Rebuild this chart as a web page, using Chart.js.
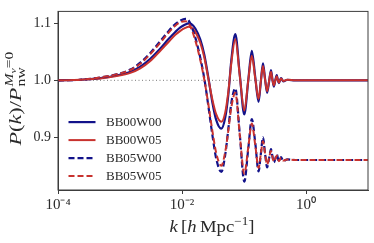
<!DOCTYPE html>
<html>
<head>
<meta charset="utf-8">
<script src="https://cdn.jsdelivr.net/npm/chart.js@4"></script>
<style>
  body { margin: 0; background: #fff; }
  #wrap { width: 374px; height: 243px; }
</style>
</head>
<body>
<div id="wrap"><canvas id="chart" width="374" height="243"></canvas></div>
<script>
// wavenumbers k [h/Mpc], shared by all four curves
const kValues = [
  1e-4, 2.29e-4, 4.81e-4, 8.39e-4, 1.47e-3, 2.12e-3, 3.08e-3, 4.47e-3, 6.01e-3, 7.80e-3,
  9.40e-3, 0.0113, 0.01265, 0.0141, 0.0164, 0.0197, 0.0229, 0.0266, 0.0308, 0.0357,
  0.0431, 0.0499, 0.0559, 0.0624, 0.0724, 0.0855, 0.1011, 0.1172, 0.1336, 0.152,
  0.1718, 0.1866, 0.2023, 0.2183, 0.236, 0.2541, 0.2723, 0.2871, 0.3027, 0.3199,
  0.3381, 0.3508, 0.3656, 0.3811, 0.3963, 0.4305, 0.499, 0.671, 1.17, 3.57, 10
];
const bb00w00 = [
  1.000, 1.001, 1.004, 1.008, 1.015, 1.024, 1.038, 1.056, 1.072, 1.085,
  1.093, 1.098, 1.100, 1.099, 1.091, 1.072, 1.045, 1.005, 0.962, 0.930,
  0.915, 0.935, 0.975, 1.035, 1.081, 1.010, 0.940, 1.000, 1.052, 1.005,
  0.962, 0.997, 1.030, 1.003, 0.978, 0.998, 1.018, 1.002, 0.989, 1.000,
  1.009, 1.001, 0.995, 1.000, 1.004, 0.998, 1.001, 1.000, 1.000, 1.000, 1.000
];
const bb00w05 = [
  1.000, 1.001, 1.003, 1.007, 1.013, 1.021, 1.034, 1.052, 1.067, 1.080,
  1.087, 1.092, 1.094, 1.093, 1.085, 1.066, 1.040, 1.003, 0.967, 0.940,
  0.927, 0.944, 0.980, 1.030, 1.072, 1.008, 0.947, 1.000, 1.043, 1.003,
  0.967, 0.998, 1.025, 1.002, 0.981, 0.999, 1.015, 1.001, 0.991, 1.000,
  1.007, 1.001, 0.996, 1.000, 1.003, 0.999, 1.001, 1.000, 1.000, 1.000, 1.000
];
const bb05w00 = [
  1.000, 1.001, 1.005, 1.010, 1.019, 1.031, 1.048, 1.069, 1.086, 1.099,
  1.105, 1.108, 1.106, 1.096, 1.075, 1.040, 1.003, 0.955, 0.905, 0.862,
  0.839, 0.870, 0.915, 0.960, 0.986, 0.905, 0.822, 0.880, 0.932, 0.890,
  0.840, 0.870, 0.900, 0.872, 0.847, 0.863, 0.879, 0.867, 0.856, 0.862,
  0.870, 0.864, 0.857, 0.861, 0.865, 0.858, 0.861, 0.860, 0.860, 0.860, 0.860
];
const bb05w05 = [
  1.000, 1.001, 1.005, 1.010, 1.018, 1.029, 1.046, 1.066, 1.083, 1.096,
  1.102, 1.104, 1.101, 1.091, 1.070, 1.036, 1.001, 0.958, 0.912, 0.872,
  0.850, 0.875, 0.912, 0.952, 0.978, 0.904, 0.836, 0.882, 0.924, 0.886,
  0.846, 0.870, 0.893, 0.872, 0.852, 0.864, 0.876, 0.866, 0.857, 0.862,
  0.868, 0.863, 0.858, 0.861, 0.864, 0.859, 0.861, 0.860, 0.860, 0.860, 0.860
];
const seriesNames = ['BB00W00', 'BB00W05', 'BB05W00', 'BB05W05'];
const referenceLevel = 1.0;
const kMin = 1e-4;
const kMax = 10;
const xTickValues = [1e-4, 1e-2, 1];
const xTickLabels = ['10⁻⁴', '10⁻²', '10⁰'];
const yTickValues = [0.9, 1.0, 1.1];
const yTickLabels = ['0.9', '1.0', '1.1'];

const blue = '#12128a';
const red = '#c8322e';
const serif = '"Liberation Serif", "Times New Roman", serif';

function toPoints(values) {
    return kValues.map((k, i) => ({ x: k, y: values[i] }));
}

// lays out a run of text pieces; a piece with keep:true does not advance (used for stacked sub/sup)
function layoutRich(ctx, parts) {
    let pos = 0, minEnd = 0;
    const placed = parts.map(p => {
        ctx.font = p.font;
        const w = ctx.measureText(p.t).width;
        const item = { ...p, x: pos };
        if (p.keep) {
            minEnd = Math.max(minEnd, pos + w);
        } else {
            pos += w + (p.gap || 0);
        }
        return item;
    });
    return { placed, width: Math.max(pos, minEnd) };
}

function drawRich(ctx, parts, stretch) {
    const { placed, width } = layoutRich(ctx, parts);
    ctx.scale(stretch, 1);
    ctx.textAlign = 'left';
    ctx.textBaseline = 'alphabetic';
    placed.forEach(p => {
        ctx.font = p.font;
        ctx.fillText(p.t, p.x - width / 2, p.dy || 0);
    });
}

const decorPlugin = {
    id: 'decor',
    afterDraw(chart) {
        const { ctx, chartArea: a } = chart;
        ctx.save();

        // frame
        ctx.strokeStyle = '#3c3c3c';
        ctx.lineWidth = 1;
        ctx.strokeRect(a.left, a.top, a.right - a.left, a.bottom - a.top);

        // legend
        chart.data.datasets.slice(0, seriesNames.length).forEach((ds, i) => {
            const y = a.top + 110.7 + i * 18;
            ctx.strokeStyle = ds.borderColor;
            ctx.lineWidth = ds.borderWidth;
            ctx.setLineDash(ds.borderDash || []);
            ctx.beginPath();
            ctx.moveTo(a.left + 10.5, y);
            ctx.lineTo(a.left + 37.5, y);
            ctx.stroke();
            ctx.setLineDash([]);
            ctx.fillStyle = '#2a2a2a';
            ctx.font = '13px ' + serif;
            ctx.textAlign = 'left';
            ctx.textBaseline = 'middle';
            ctx.fillText(ds.label, a.left + 48, y + 0.5);
        });

        ctx.fillStyle = '#2a2a2a';

        // x title: k [h Mpc^-1]
        ctx.save();
        ctx.translate(212, 232);
        drawRich(ctx, [
            { t: 'k', font: 'italic 17px ' + serif, gap: 3 },
            { t: '[', font: '17px ' + serif },
            { t: 'h', font: 'italic 17px ' + serif, gap: 3 },
            { t: 'Mpc', font: '17px ' + serif },
            { t: '−1', font: '12px ' + serif, dy: -7 },
            { t: ']', font: '17px ' + serif }
        ], 1.1);
        ctx.restore();

        // y title: P(k)/P_nw^{M_nu=0}
        ctx.save();
        ctx.translate(21, 98.5);
        ctx.rotate(-Math.PI / 2);
        drawRich(ctx, [
            { t: 'P', font: 'italic 17px ' + serif },
            { t: '(', font: '17px ' + serif },
            { t: 'k', font: 'italic 17px ' + serif },
            { t: ')', font: '17px ' + serif },
            { t: '/', font: '17px ' + serif },
            { t: 'P', font: 'italic 17px ' + serif, gap: 1 },
            { t: 'nw', font: '12px ' + serif, dy: 4, keep: true },
            { t: 'M', font: 'italic 12px ' + serif, dy: -8 },
            { t: 'ν', font: 'italic 9px ' + serif, dy: -5 },
            { t: '=0', font: '12px ' + serif, dy: -8 }
        ], 1.3);
        ctx.restore();

        ctx.restore();
    }
};

new Chart(document.getElementById('chart'), {
    type: 'line',
    data: {
        datasets: [
            { label: seriesNames[0], data: toPoints(bb00w00), borderColor: blue, borderWidth: 2.2, order: 4 },
            { label: seriesNames[1], data: toPoints(bb00w05), borderColor: red, borderWidth: 2, order: 3 },
            { label: seriesNames[2], data: toPoints(bb05w00), borderColor: blue, borderWidth: 2.2, borderDash: [6, 3], order: 2 },
            { label: seriesNames[3], data: toPoints(bb05w05), borderColor: red, borderWidth: 2, borderDash: [6, 3], order: 1 },
            {
                label: 'reference',
                data: [{ x: kMin, y: referenceLevel }, { x: kMax, y: referenceLevel }],
                borderColor: '#777', borderWidth: 1, borderDash: [1, 2.5], order: 10
            }
        ]
    },
    options: {
        responsive: false,
        animation: false,
        layout: { padding: { top: 6, right: 6, left: 0, bottom: 0 } },
        elements: {
            point: { radius: 0 },
            line: { cubicInterpolationMode: 'monotone', fill: false }
        },
        plugins: {
            legend: { display: false },
            tooltip: { enabled: false }
        },
        scales: {
            x: {
                type: 'logarithmic',
                min: kMin,
                max: kMax,
                afterBuildTicks: s => { s.ticks = xTickValues.map(v => ({ value: v })); },
                afterFit: s => { s.height = 53; },
                ticks: {
                    autoSkip: false,
                    maxRotation: 0,
                    padding: 2,
                    color: '#2a2a2a',
                    font: { family: serif, size: 15 },
                    callback: v => xTickLabels[xTickValues.indexOf(v)] ?? ''
                },
                grid: { drawOnChartArea: false, drawTicks: true, tickLength: 4, color: '#3c3c3c' },
                border: { display: true, color: '#3c3c3c' }
            },
            y: {
                min: 0.8073,
                max: 1.1211,
                afterBuildTicks: s => { s.ticks = yTickValues.map(v => ({ value: v })); },
                afterFit: s => { s.width = 58; },
                ticks: {
                    padding: 3,
                    color: '#2a2a2a',
                    font: { family: serif, size: 14 },
                    callback: v => yTickLabels[yTickValues.findIndex(t => Math.abs(t - v) < 1e-9)] ?? ''
                },
                grid: { drawOnChartArea: false, drawTicks: true, tickLength: 4, color: '#3c3c3c' },
                border: { display: true, color: '#3c3c3c' }
            }
        }
    },
    plugins: [decorPlugin]
});
</script>
</body>
</html>
